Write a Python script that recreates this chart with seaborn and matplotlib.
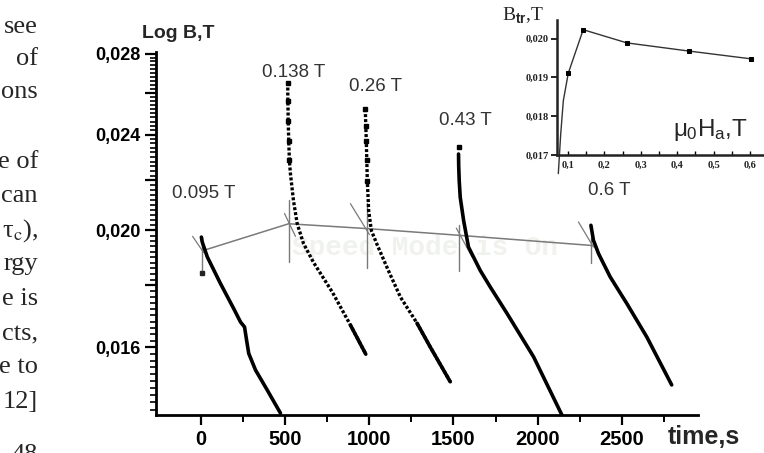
import numpy as np
import pandas as pd
import matplotlib
matplotlib.use("Agg")
import matplotlib.pyplot as plt
import seaborn as sns

sns.set_theme(style="white")
plt.rcParams['font.family'] = ['Liberation Sans', 'DejaVu Sans']
plt.rcParams['mathtext.fontset'] = 'custom'
plt.rcParams['mathtext.rm'] = 'Liberation Sans'
plt.rcParams['mathtext.it'] = 'Liberation Sans'
plt.rcParams['mathtext.bf'] = 'Liberation Sans:bold'

W, H = 764, 453

# Relaxation curves B(t) (log scale), one per applied field
t_095 = [5, 10, 40, 118, 197, 237, 261, 273, 286, 326, 395, 474]
b_095 = [0.01974, 0.01956, 0.01901, 0.01807, 0.01722, 0.01679, 0.01663,
         0.01622, 0.01581, 0.01532, 0.01475, 0.01411]

t_138 = [517, 518, 520, 523, 527, 533, 551, 573, 610, 669, 782, 889, 980]
b_138 = [0.02651, 0.02561, 0.02465, 0.02373, 0.02285, 0.02229, 0.02117,
         0.02026, 0.01951, 0.01882, 0.01777, 0.01669, 0.01579]

t_26 = [977, 980, 983, 986, 989, 997, 1013, 1049, 1114, 1185, 1284, 1363, 1481]
b_26 = [0.02520, 0.02441, 0.02373, 0.02285, 0.02199, 0.02077, 0.01999,
        0.01943, 0.01852, 0.01761, 0.01675, 0.01600, 0.01498]

t_43 = [1530, 1531, 1534, 1540, 1560, 1589, 1659, 1718, 1817, 1975, 2143]
b_43 = [0.02313, 0.02260, 0.02199, 0.02130, 0.02038, 0.01937, 0.01852,
        0.01795, 0.01707, 0.01571, 0.01406]
t_43_top, b_43_top = 1530, 0.02346

t_60 = [2315, 2330, 2360, 2429, 2528, 2646, 2794]
b_60 = [0.02019, 0.01962, 0.01913, 0.01830, 0.01739, 0.01632, 0.01489]

field_labels = ['0.095 T', '0.138 T', '0.26 T', '0.43 T', '0.6 T']
label_t = [18, 551, 1037, 1570, 2423]
label_b = [0.02145, 0.02701, 0.02629, 0.02465, 0.02158]

# transition points B_tr joined by the thin grey line
t_tr = [20, 523, 997, 1530, 2316]
b_tr = [0.01925, 0.02025, 0.02006, 0.01981, 0.01943]

# vertical marker lines at each transition
mark_t = [6, 523, 988, 1530, 2313]
mark_lo = [0.01845, 0.01882, 0.01860, 0.01852, 0.01878]
mark_hi = [0.01974, 0.02117, 0.02105, 0.02019, 0.01970]

# tangent lines (start/end)
tan_t0 = [-47, 498, 889, 1517, 2241]
tan_b0 = [0.01977, 0.02065, 0.02104, 0.02008, 0.02032]
tan_t1 = [18, 563, 1001, 1611, 2330]
tan_b1 = [0.01917, 0.01977, 0.01984, 0.01900, 0.01937]

x_ticks = [0, 500, 1000, 1500, 2000, 2500]
x_minor = [250, 750, 1250, 1750, 2250, 2750]
y_ticks = [0.016, 0.018, 0.020, 0.022, 0.024, 0.026, 0.028]
y_ticklabels = ['0,016', '', '0,020', '', '0,024', '', '0,028']
y_minor = [round(0.0142 + 0.0002 * k, 4) for k in range(70)]

XLIM = (-267, 2950)
YLIM = (0.01406, 0.0281)

# inset: B_tr vs mu0*Ha
inset_h = [0.101, 0.142, 0.262, 0.432, 0.602]
inset_b = [0.01911, 0.02023, 0.01989, 0.01968, 0.01948]
guide_h = [0.0736, 0.0802, 0.0874, 0.101]
guide_b = [0.01652, 0.01754, 0.01840, 0.01911]
inset_xticks = [0.1, 0.2, 0.3, 0.4, 0.5, 0.6]
inset_xlabels = ['0,1', '0,2', '0,3', '0,4', '0,5', '0,6']
inset_yticks = [0.017, 0.018, 0.019, 0.020]
inset_ylabels = ['0,017', '0,018', '0,019', '0,020']

# fragments of the page text left of the figure
page_text = ['see', 'of', 'ons', 'e of', 'can', r'τ$_{\rm c}$),', 'rgy',
             'e is', 'cts,', 'e to', '12]', '48']
page_base = [33, 65, 98, 168, 202, 237, 270, 305, 340, 373, 408, 461]


def fpos(x, y):
    return x / W, 1 - y / H


fig = plt.figure(figsize=(W / 100, H / 100), dpi=100)
ax = fig.add_axes([155.5 / W, 1 - 415 / H, 542.5 / W, 363 / H])
ax.set_yscale('log')

grey = '#7a7a7a'
# thin construction lines
for i in range(len(mark_t)):
    ax.plot([mark_t[i], mark_t[i]], [mark_lo[i], mark_hi[i]], color=grey, lw=1.0, zorder=2)
    ax.plot([tan_t0[i], tan_t1[i]], [tan_b0[i], tan_b1[i]], color=grey, lw=0.9, zorder=2)
sns.lineplot(x=t_tr, y=b_tr, sort=False, estimator=None, color=grey, lw=1.1, ax=ax, zorder=2)
ax.plot([mark_t[0]], [mark_lo[0]], 's', color='#222222', ms=2.5, zorder=3)

# relaxation curves
solid = dict(color='black', lw=2.6, solid_capstyle='round')
sns.lineplot(x=t_095, y=b_095, sort=False, estimator=None, ax=ax, zorder=4, **solid)
for tt, bb in [(t_138, b_138), (t_26, b_26)]:
    sns.lineplot(x=tt, y=bb, sort=False, estimator=None, ax=ax, color='black',
                 lw=2.4, linestyle=(0, (0.9, 0.6)), zorder=4)
    tail = [k for k in range(len(tt)) if bb[k] <= 0.0168]
    sns.lineplot(x=[tt[k] for k in tail], y=[bb[k] for k in tail], sort=False,
                 estimator=None, ax=ax, zorder=4, **solid)
    ax.plot(tt[:5], bb[:5], 's', color='black', ms=2.2, zorder=4)
sns.lineplot(x=t_43, y=b_43, sort=False, estimator=None, ax=ax, zorder=4, **solid)
ax.plot([t_43_top], [b_43_top], 's', color='black', ms=2.5, zorder=4)
sns.lineplot(x=t_60, y=b_60, sort=False, estimator=None, ax=ax, zorder=4, **solid)

for lab, tt, bb in zip(field_labels, label_t, label_b):
    ax.text(tt, bb, lab, ha='center', va='center', fontsize=13.5, color='#333333')

ax.text(*fpos(292, 248), 'Speed Mode is On', transform=fig.transFigure,
        family='Liberation Mono', fontweight='bold', fontsize=20,
        color='#f0f2ed', va='center', ha='left', zorder=1)

# dense small marks along the log axis, drawn just left of the spine
comb_len = (XLIM[1] - XLIM[0]) * 6 / 542.5
for v in y_minor:
    ax.plot([XLIM[0] - comb_len, XLIM[0]], [v, v], color='black', lw=1.2,
            solid_capstyle='butt', clip_on=False, zorder=6)

ax.set_xlim(*XLIM)
ax.set_ylim(*YLIM)
ax.set_xticks(x_ticks)
ax.set_xticklabels([str(v) for v in x_ticks])
ax.set_xticks(x_minor, minor=True)
ax.set_yticks(y_ticks)
ax.set_yticklabels(y_ticklabels)
ax.set_yticks([], minor=True)
ax.set_xlabel('')
ax.set_ylabel('')
ax.tick_params(axis='both', which='both', bottom=True, left=True, direction='out',
               color='black')
ax.tick_params(axis='x', which='major', length=7, width=1.6, pad=4, labelsize=14.5)
ax.tick_params(axis='x', which='minor', length=5, width=1.4)
ax.tick_params(axis='y', which='major', length=8, width=1.6, pad=3, labelsize=13)
for lab in ax.get_xticklabels() + ax.get_yticklabels():
    lab.set_fontweight('bold')
    lab.set_color('black')
for s in ['top', 'right']:
    ax.spines[s].set_visible(False)
for s in ['left', 'bottom']:
    ax.spines[s].set_linewidth(2.0)
    ax.spines[s].set_color('black')
ax.set_facecolor('none')

fig.text(*fpos(142, 33), 'Log B,T', fontsize=14, fontweight='bold', va='center', ha='left')
fig.text(*fpos(668, 437), 'time,s', fontsize=18, fontweight='bold', va='center', ha='left')

# inset
axin = fig.add_axes([557 / W, 1 - 155 / H, 206 / W, 135 / H])
sns.lineplot(x=guide_h, y=guide_b, sort=False, estimator=None, color='#333333',
             lw=1.0, ax=axin, clip_on=False)
sns.lineplot(x=inset_h, y=inset_b, sort=False, estimator=None, color='#333333',
             lw=1.0, marker='s', markersize=3.5, markerfacecolor='black',
             markeredgecolor='black', ax=axin)
axin.set_xlim(0.070, 0.636)
axin.set_ylim(0.017, 0.02048)
axin.set_xticks(inset_xticks)
axin.set_xticklabels(inset_xlabels)
axin.set_xticks([0.15, 0.25, 0.35, 0.45, 0.55], minor=True)
axin.set_yticks(inset_yticks)
axin.set_yticklabels(inset_ylabels)
axin.set_xlabel('')
axin.set_ylabel('')
axin.tick_params(axis='x', which='both', bottom=True, direction='in', length=3,
                 width=1.0, pad=4, color='black')
axin.tick_params(axis='y', which='major', left=True, direction='out', length=4,
                 width=1.2, pad=2, color='black')
for lab in axin.get_xticklabels() + axin.get_yticklabels():
    lab.set_family('Liberation Serif')
    lab.set_fontweight('bold')
    lab.set_fontsize(7.5)
    lab.set_color('#222222')
for s in ['top', 'right']:
    axin.spines[s].set_visible(False)
for s in ['left', 'bottom']:
    axin.spines[s].set_linewidth(1.8)
    axin.spines[s].set_color('#222222')
axin.set_facecolor('none')

fig.text(*fpos(502, 20), r'B$_{\mathbf{tr}}$,T', family='Liberation Serif',
         fontsize=14, va='baseline', ha='left', math_fontfamily='custom')
fig.text(*fpos(673, 136), r'$\mu_0$H$_a$,T', fontsize=17.5, va='baseline', ha='left')

for txt, yb in zip(page_text, page_base):
    fig.text(*fpos(38, yb), txt, family='Liberation Serif', fontsize=19,
             va='baseline', ha='right', math_fontfamily='stix')

fig.savefig('out.png', dpi=100, facecolor='white')
